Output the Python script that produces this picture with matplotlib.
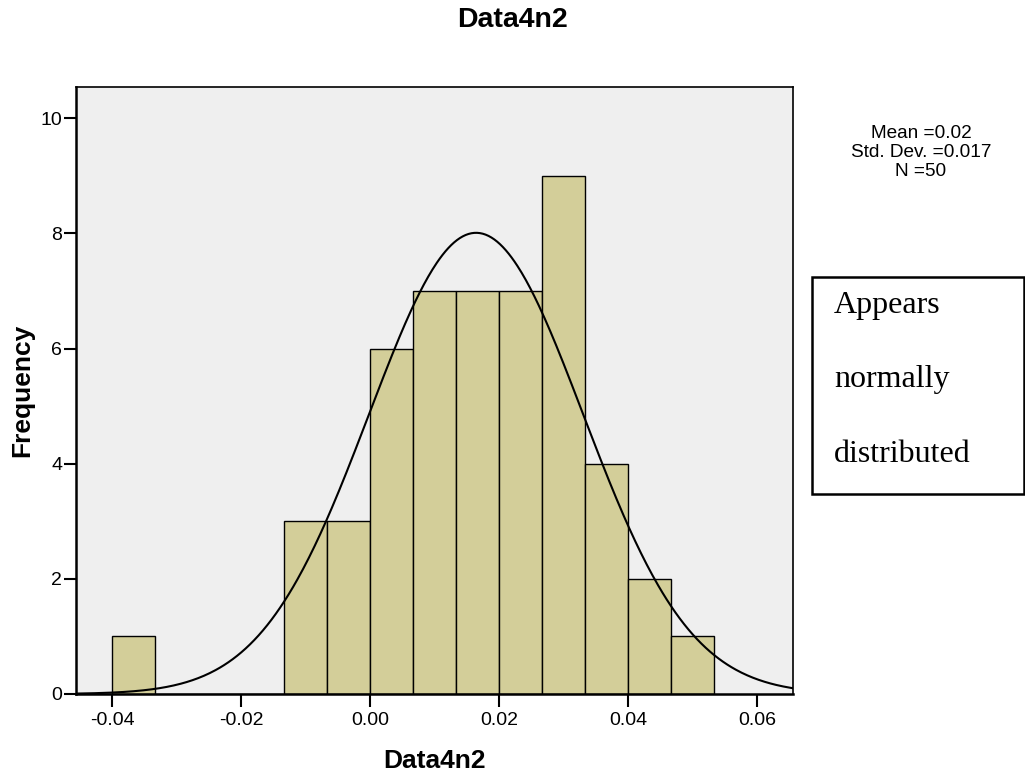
import numpy as np
import matplotlib
matplotlib.use("Agg")
import matplotlib.pyplot as plt
from matplotlib.patches import Rectangle

# Data
bin_start = -0.04
bin_width = 0.02 / 3
counts = [1, 0, 0, 0, 3, 3, 6, 7, 7, 7, 9, 4, 2, 1]
curve_mean = 0.0164
curve_sd = 0.0166
n_total = 50
stats_lines = ["Mean =0.02", "Std. Dev. =0.017", "N =50"]
note_lines = ["Appears", "normally", "distributed"]
xticks = [-0.04, -0.02, 0.00, 0.02, 0.04, 0.06]
yticks = [0, 2, 4, 6, 8, 10]

plt.rcParams['font.family'] = ['Liberation Sans', 'DejaVu Sans']

fig = plt.figure(figsize=(10.25, 7.77), dpi=100)
ax = fig.add_axes([76/1025, 1-694/777, (793.3-76)/1025, (694-87.3)/777])
ax.set_facecolor('#EFEFEF')

edges = bin_start + bin_width * np.arange(len(counts) + 1)
lefts = edges[:-1]
ax.bar(lefts, counts, width=bin_width, align='edge', color='#D3CE99',
       edgecolor='black', linewidth=1.0, zorder=2)

xlo = -0.04 - 36.3 / 6450
xhi = 0.06 + 36 / 6450
xs = np.linspace(xlo, xhi, 500)
ys = n_total * bin_width * np.exp(-0.5 * ((xs - curve_mean) / curve_sd) ** 2) / (curve_sd * np.sqrt(2 * np.pi))
ax.plot(xs, ys, color='black', linewidth=1.5, zorder=3)

ax.set_xlim(xlo, xhi)
ax.set_ylim(0, 10 + 31 / 57.57)
ax.set_xticks(xticks)
ax.set_xticklabels([f"{t:.2f}" for t in xticks])
ax.set_yticks(yticks)
ax.set_yticklabels([str(t) for t in yticks])
ax.tick_params(direction='out', length=9, width=1.5, labelsize=14)
ax.tick_params(axis='x', pad=4)
ax.tick_params(axis='y', pad=1)
for s in ax.spines.values():
    s.set_linewidth(1.2)
ax.spines['bottom'].set_linewidth(1.8)
ax.spines['left'].set_linewidth(1.8)

fig.text(434.6/1025, 1 - 761/777, "Data4n2", ha='center', va='center', fontsize=19, fontweight='bold')
fig.text(22/1025, 1 - 390/777, "Frequency", ha='center', va='center', rotation=90,
         fontsize=19, fontweight='bold')
fig.text(0.5, 1 - 20/777, "Data4n2", ha='center', va='center', fontsize=20.5, fontweight='bold')

for i, line in enumerate(stats_lines):
    fig.text(921/1025, 1 - (134 + 18.5*i)/777, line, ha='center', va='center', fontsize=13.7)

fig.patches.append(Rectangle((812/1025, 1-494/777), (1024-812)/1025, (494-277)/777,
                             transform=fig.transFigure, facecolor='white', edgecolor='black',
                             linewidth=1.8, zorder=5))
for i, line in enumerate(note_lines):
    fig.text(834/1025, 1 - (306 + 74*i)/777, line, ha='left', va='center', fontsize=23,
             family=['Liberation Serif', 'DejaVu Serif'], zorder=6)

fig.savefig("out.png", dpi=100)
